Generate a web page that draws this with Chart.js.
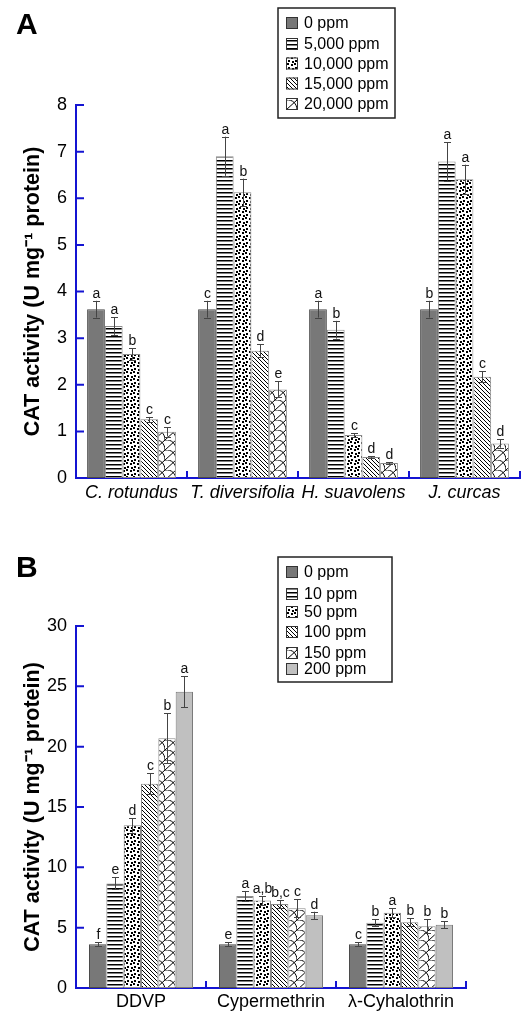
<!DOCTYPE html>
<html>
<head>
<meta charset="utf-8">
<script src="https://cdn.jsdelivr.net/npm/chart.js@4.4.0/dist/chart.umd.min.js"></script>
<style>
  html, body { margin: 0; padding: 0; background: #fff; }
  #wrapA { position: absolute; left: 0; top: 0; width: 521px; height: 510px; }
  #wrapB { position: absolute; left: 0; top: 500px; width: 521px; height: 512px; }
</style>
</head>
<body>
<div id="wrapA"><canvas id="chartA"></canvas></div>
<div id="wrapB"><canvas id="chartB"></canvas></div>
<script>
// ---- Panel A data ----
const categoriesA = ['C. rotundus', 'T. diversifolia', 'H. suavolens', 'J. curcas'];
const seriesA = ['0 ppm', '5,000 ppm', '10,000 ppm', '15,000 ppm', '20,000 ppm'];
const valuesA0 = [3.62, 3.62, 3.62, 3.62];
const valuesA5000 = [3.26, 6.90, 3.18, 6.79];
const valuesA10000 = [2.66, 6.13, 0.92, 6.41];
const valuesA15000 = [1.26, 2.73, 0.45, 2.17];
const valuesA20000 = [0.99, 1.90, 0.32, 0.74];
const errA0 = [0.18, 0.18, 0.18, 0.18];
const errA5000 = [0.19, 0.42, 0.19, 0.41];
const errA10000 = [0.12, 0.29, 0.04, 0.31];
const errA15000 = [0.05, 0.14, 0.02, 0.12];
const errA20000 = [0.10, 0.17, 0.02, 0.09];
const lettersA0 = ['a', 'c', 'a', 'b'];
const lettersA5000 = ['a', 'a', 'b', 'a'];
const lettersA10000 = ['b', 'b', 'c', 'a'];
const lettersA15000 = ['c', 'd', 'd', 'c'];
const lettersA20000 = ['c', 'e', 'd', 'd'];
const yTicksA = [0, 1, 2, 3, 4, 5, 6, 7, 8];

// ---- Panel B data ----
const categoriesB = ['DDVP', 'Cypermethrin', 'λ-Cyhalothrin'];
const seriesB = ['0 ppm', '10 ppm', '50 ppm', '100 ppm', '150 ppm', '200 ppm'];
const valuesB0 = [3.62, 3.62, 3.62];
const valuesB10 = [8.67, 7.62, 5.41];
const valuesB50 = [13.48, 7.26, 6.24];
const valuesB100 = [16.93, 6.96, 5.44];
const valuesB150 = [20.69, 6.60, 5.11];
const valuesB200 = [24.55, 6.02, 5.24];
const errB0 = [0.17, 0.17, 0.17];
const errB10 = [0.50, 0.42, 0.30];
const errB50 = [0.60, 0.36, 0.36];
const errB100 = [0.86, 0.33, 0.33];
const errB150 = [2.07, 0.75, 0.58];
const errB200 = [1.30, 0.30, 0.30];
const lettersB0 = ['f', 'e', 'c'];
const lettersB10 = ['e', 'a', 'b'];
const lettersB50 = ['d', 'a,b', 'a'];
const lettersB100 = ['c', 'b,c', 'b'];
const lettersB150 = ['b', 'c', 'b'];
const lettersB200 = ['a', 'd', 'b'];
const yTicksB = [0, 5, 10, 15, 20, 25, 30];

const FONT = '"Liberation Sans", Arial, Helvetica, sans-serif';
const AXIS_BLUE = '#1414d2';

// ---- fill patterns ----
function makePattern(kind) {
    const c = document.createElement('canvas');
    let w = 4, h = 4;
    if (kind === 'dots') { w = 7; h = 7; }
    if (kind === 'wave') { w = 11; h = 10; }
    c.width = w; c.height = h;
    const g = c.getContext('2d');
    g.fillStyle = '#fff';
    g.fillRect(0, 0, w, h);
    g.fillStyle = '#000';
    g.strokeStyle = '#000';
    g.lineWidth = 1;
    if (kind === 'hline') {
        g.fillRect(0, 0, w, 1.5);
    } else if (kind === 'dots') {
        g.fillRect(0, 0, 2, 2);
        g.fillRect(4, 1, 2, 2);
        g.fillRect(1, 4, 2, 2);
        g.fillRect(5, 5, 2, 2);
    } else if (kind === 'diag') {
        g.beginPath();
        g.moveTo(-1, -1); g.lineTo(5, 5);
        g.moveTo(-1, 3); g.lineTo(1, 5);
        g.moveTo(3, -1); g.lineTo(5, 1);
        g.stroke();
    } else if (kind === 'wave') {
        g.beginPath();
        g.moveTo(0, h); g.lineTo(w, 0);
        g.moveTo(0, 0); g.bezierCurveTo(w * 0.6, -h * 0.1, w * 1.0, h * 0.4, w, h);
        g.stroke();
    }
    return g.createPattern(c, 'repeat');
}

const fillGray = '#787878';
const fillLight = '#c0c0c0';
const patH = makePattern('hline');
const patDots = makePattern('dots');
const patDiag = makePattern('diag');
const patWave = makePattern('wave');

function ds(label, data, errors, letters, fill, border) {
    return {
        label: label,
        data: data,
        errors: errors,
        letters: letters,
        backgroundColor: fill,
        borderColor: border,
        borderWidth: 1,
        borderSkipped: false,
        barPercentage: 1.0,
        categoryPercentage: 0.8
    };
}

// ---- drawing helper plugin: error bars, letters, inward ticks, legend, panel letter ----
const decor = {
    id: 'decor',
    afterDatasetsDraw(chart) {
        const ctx = chart.ctx;
        const ys = chart.scales.y;
        ctx.save();
        chart.data.datasets.forEach((d, i) => {
            const meta = chart.getDatasetMeta(i);
            meta.data.forEach((bar, j) => {
                const v = d.data[j], e = d.errors[j];
                const yt = ys.getPixelForValue(v + e);
                const yb = ys.getPixelForValue(v - e);
                const x = Math.round(bar.x) + 0.5;
                ctx.strokeStyle = '#444';
                ctx.lineWidth = 1;
                ctx.beginPath();
                ctx.moveTo(x, yt); ctx.lineTo(x, yb);
                ctx.moveTo(x - 3.5, Math.round(yt) + 0.5); ctx.lineTo(x + 3.5, Math.round(yt) + 0.5);
                ctx.moveTo(x - 3.5, Math.round(yb) + 0.5); ctx.lineTo(x + 3.5, Math.round(yb) + 0.5);
                ctx.stroke();
                ctx.fillStyle = '#111';
                ctx.font = '14px ' + FONT;
                ctx.textAlign = 'center';
                ctx.textBaseline = 'alphabetic';
                ctx.fillText(d.letters[j], x, yt - 3);
            });
        });
        ctx.restore();
    },
    afterDraw(chart, args, opts) {
        const ctx = chart.ctx;
        const xs = chart.scales.x, ys = chart.scales.y;
        const area = chart.chartArea;
        ctx.save();
        // inward tick marks
        ctx.strokeStyle = AXIS_BLUE;
        ctx.lineWidth = 2;
        ctx.beginPath();
        ys.ticks.forEach((t, i) => {
            const y = ys.getPixelForTick(i);
            ctx.moveTo(area.left, y); ctx.lineTo(area.left + 8, y);
        });
        const n = xs.ticks.length;
        for (let i = 1; i <= n; i++) {
            const x = i < n ? (xs.getPixelForTick(i - 1) + xs.getPixelForTick(i)) / 2 : area.right;
            ctx.moveTo(x, area.bottom); ctx.lineTo(x, area.bottom - 7);
        }
        ctx.stroke();

        // legend box
        const L = opts.legend;
        ctx.fillStyle = '#fff';
        ctx.fillRect(L.x, L.y, L.w, L.h);
        ctx.strokeStyle = '#222';
        ctx.lineWidth = 1.5;
        ctx.strokeRect(L.x, L.y, L.w, L.h);
        ctx.font = '16px ' + FONT;
        ctx.textAlign = 'left';
        ctx.textBaseline = 'middle';
        chart.data.datasets.forEach((d, i) => {
            const cy = L.y + L.rows[i];
            ctx.fillStyle = d.backgroundColor;
            ctx.fillRect(L.x + 8, cy - 6, 12, 12);
            ctx.strokeStyle = '#333';
            ctx.lineWidth = 1;
            ctx.strokeRect(L.x + 8.5, cy - 5.5, 11, 11);
            ctx.fillStyle = '#000';
            ctx.fillText(d.label, L.x + 26, cy + 1);
        });

        // panel letter
        ctx.font = 'bold 30px ' + FONT;
        ctx.fillStyle = '#000';
        ctx.textBaseline = 'alphabetic';
        ctx.fillText(opts.panel.text, opts.panel.x, opts.panel.y);
        ctx.restore();
    }
};

function makeOptions(yTicks, layoutPad, xHeight, xPad, italic, legendBox, panel) {
    return {
        responsive: true,
        maintainAspectRatio: false,
        animation: false,
        layout: { padding: layoutPad },
        plugins: {
            legend: { display: false },
            tooltip: { enabled: false },
            decor: { legend: legendBox, panel: panel }
        },
        scales: {
            x: {
                offset: true,
                grid: { display: false, drawTicks: false },
                border: { display: true, color: AXIS_BLUE, width: 2 },
                ticks: {
                    color: '#000',
                    padding: xPad,
                    maxRotation: 0,
                    autoSkip: false,
                    font: { family: FONT, size: 18, style: italic ? 'italic' : 'normal' }
                },
                afterFit: s => { s.height = xHeight; }
            },
            y: {
                min: yTicks[0],
                max: yTicks[yTicks.length - 1],
                grid: { display: false, drawTicks: false },
                border: { display: true, color: AXIS_BLUE, width: 2 },
                afterBuildTicks: s => { s.ticks = yTicks.map(v => ({ value: v })); },
                ticks: {
                    color: '#000',
                    padding: 9,
                    font: { family: FONT, size: 18 }
                },
                title: {
                    display: true,
                    text: 'CAT activity (U mg\u207B\u00B9 protein)',
                    color: '#000',
                    padding: { top: 20, bottom: 0 },
                    font: { family: FONT, size: 21.5, weight: 'bold' }
                },
                afterFit: s => { s.width = 76; }
            }
        }
    };
}

document.addEventListener('DOMContentLoaded', () => {
    new Chart(document.getElementById('chartA'), {
        type: 'bar',
        data: {
            labels: categoriesA,
            datasets: [
                ds(seriesA[0], valuesA0, errA0, lettersA0, fillGray, '#4a4a4a'),
                ds(seriesA[1], valuesA5000, errA5000, lettersA5000, patH, '#8a8a8a'),
                ds(seriesA[2], valuesA10000, errA10000, lettersA10000, patDots, '#8a8a8a'),
                ds(seriesA[3], valuesA15000, errA15000, lettersA15000, patDiag, '#8a8a8a'),
                ds(seriesA[4], valuesA20000, errA20000, lettersA20000, patWave, '#8a8a8a')
            ]
        },
        options: makeOptions(yTicksA, { top: 105, right: 1, bottom: 0, left: 0 }, 32, 4, true,
            { x: 278, y: 8, w: 117, h: 110, rows: [15, 36, 55.5, 75.5, 96] },
            { text: 'A', x: 16, y: 34 }),
        plugins: [decor]
    });

    new Chart(document.getElementById('chartB'), {
        type: 'bar',
        data: {
            labels: categoriesB,
            datasets: [
                ds(seriesB[0], valuesB0, errB0, lettersB0, fillGray, '#4a4a4a'),
                ds(seriesB[1], valuesB10, errB10, lettersB10, patH, '#8a8a8a'),
                ds(seriesB[2], valuesB50, errB50, lettersB50, patDots, '#8a8a8a'),
                ds(seriesB[3], valuesB100, errB100, lettersB100, patDiag, '#8a8a8a'),
                ds(seriesB[4], valuesB150, errB150, lettersB150, patWave, '#8a8a8a'),
                ds(seriesB[5], valuesB200, errB200, lettersB200, fillLight, '#7a7a7a')
            ]
        },
        options: makeOptions(yTicksB, { top: 126, right: 55, bottom: 0, left: 0 }, 24, 3, false,
            { x: 278, y: 57, w: 114, h: 125, rows: [15, 37, 55, 75, 96, 112] },
            { text: 'B', x: 16, y: 77 }),
        plugins: [decor]
    });
});
</script>
</body>
</html>
